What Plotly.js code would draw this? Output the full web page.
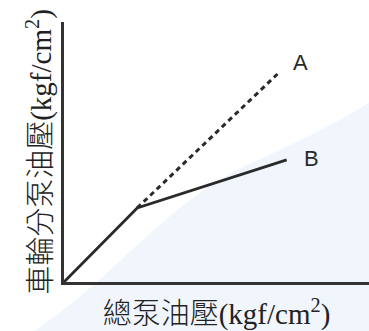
<!DOCTYPE html>
<html>
<head>
<meta charset="utf-8">
<script src="https://cdn.plot.ly/plotly-3.0.1.min.js"></script>
<style>html,body{margin:0;padding:0;background:#fff;}#chart{width:369px;height:331px;}</style>
</head>
<body>
<div id="chart"></div>
<script>
// Data (relative pressure units)
const pumpB = [0, 24, 73];
const wheelB = [0, 28.5, 47];
const pumpA = [24, 70];
const wheelA = [28.5, 80];
const curveLabels = ['A', 'B'];
const labelX = [77.5, 81];
const labelY = [84.5, 47.5];
const xTitle = '總泵油壓(kgf/cm<sup>2</sup>)';
const yTitle = '車輪分泵油壓(kgf/cm<sup>2</sup>)';

const titleFont = {family: '"Liberation Serif","Noto Sans CJK TC",serif', size: 29, color: '#222', weight: 300};

const traces = [
  {x: pumpB, y: wheelB, mode: 'lines', line: {color: '#2a2a2a', width: 2.8}, hoverinfo: 'skip', showlegend: false},
  {x: pumpA, y: wheelA, mode: 'lines', line: {color: '#2a2a2a', width: 3, dash: '5px,4px'}, hoverinfo: 'skip', showlegend: false}
];

const layout = {
  width: 369, height: 331,
  margin: {l: 64, r: 0, t: 22, b: 49},
  paper_bgcolor: '#fff', plot_bgcolor: 'rgba(0,0,0,0)',
  showlegend: false,
  xaxis: {range: [0, 100], showgrid: false, zeroline: false, showticklabels: false, ticks: '',
    showline: true, linecolor: '#333', linewidth: 3,
    title: {text: xTitle, font: titleFont, standoff: 21}},
  yaxis: {range: [0, 100], showgrid: false, zeroline: false, showticklabels: false, ticks: '',
    showline: true, linecolor: '#333', linewidth: 3,
    title: {text: yTitle, font: titleFont, standoff: 1}},
  annotations: curveLabels.map((t, i) => ({x: labelX[i], y: labelY[i], text: t, showarrow: false,
    font: {family: '"Liberation Sans",Arial,sans-serif', size: 22, color: '#2a2a2a'}})),
  shapes: [
    {type: 'path', xref: 'paper', yref: 'paper', layer: 'below',
     path: 'M -0.1,-0.19 C 0.15,0.0 0.35,0.32 0.6,0.45 C 0.75,0.53 0.88,0.6 1,0.69 L 1,-0.19 Z',
     fillcolor: 'rgba(232,240,251,0.6)', line: {width: 0}}
  ]
};

Plotly.newPlot('chart', traces, layout, {displayModeBar: false, staticPlot: true});
</script>
</body>
</html>
